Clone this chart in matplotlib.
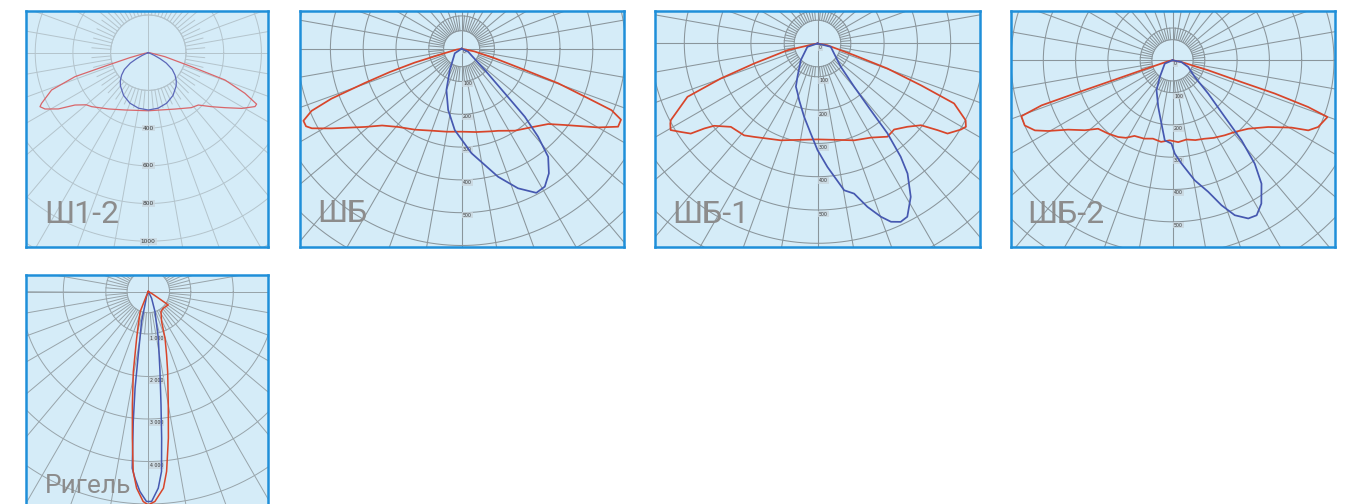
import numpy as np
import matplotlib.pyplot as plt

W, H = 1354, 504

# --- Data: luminous intensity (cd/klm) vs angle from nadir (deg) ---
# Ш1-2
sh12_red_angle = [-90, -80, -75, -72.9, -71.9, -68.9, -64.6, -63.5, -61.4, -58, -54.5, -50, -46.4, -35.4,
                  -22.1, 0, 25.4, 38, 43.7, 49.5, 54.4, 59.2, 63.2, 64.6, 67.2, 70.4, 72.1, 76.5, 85, 90]
sh12_red_cd = [0, 20, 100, 222, 409, 550, 627, 642, 624, 563, 478, 430, 415, 366,
               328, 308, 331, 370, 384, 441, 501, 577, 634, 636, 556, 432, 242, 91, 10, 0]
sh12_blue_angle = [-75, -70, -66, -63, -60, -55, -50, -45, -40, -30, -20, -10, 0,
                   10, 20, 30, 40, 45, 50, 55, 60, 63, 66, 70, 75]
sh12_blue_cd = [0, 10, 35, 70, 110, 155, 185, 210, 230, 262, 285, 299, 304,
                299, 285, 262, 230, 210, 185, 155, 110, 70, 35, 10, 0]

# ШБ
shb_red_angle = [-90, -80, -75, -73.5, -72, -70.5, -69, -67.5, -65.5, -63.5, -62, -58.5, -51, -46, -39,
                 -30, -20, -10, 0, 10, 20, 24, 33, 41.5, 49, 53.5, 60, 63.5, 66, 67.7, 68.6, 70.3,
                 71.4, 73.9, 78, 90]
shb_red_cd = [0, 15, 60, 150, 230, 313, 425, 495, 530, 530, 517, 465, 379, 337, 307,
              285, 266, 257, 253, 258, 268, 274, 298, 320, 350, 391, 480, 533, 532, 494, 414, 313,
              203, 105, 40, 0]
shb_blue_angle = [-70, -56, -29, -20.2, -12.4, -4.8, 5.4, 15.9, 22, 27.4, 31.1, 35, 38.7, 41, 42.9,
                  44.1, 47.4, 65, 80]
shb_blue_cd = [0, 25, 74, 134, 191, 249, 320, 406, 459, 495, 491, 464, 422, 355, 283,
               189, 96, 22, 0]

# ШБ-1
shb1_red_angle = [-90, -80, -77.4, -72.5, -70.1, -67.7, -62.4, -61.5, -59.5, -57.1, -54.6, -53.1, -51.5,
                  -46.1, -38.6, -34.2, -20.8, 0, 20.8, 29.6, 36.9, 41.7, 47.2, 51.7, 54.2, 55.3, 59,
                  60.7, 62.6, 66.3, 68, 70.3, 72.3, 80, 90]
shb1_red_cd = [0, 10, 92, 199, 309, 422, 497, 503, 512, 489, 467, 425, 397,
               361, 353, 339, 311, 288, 311, 325, 350, 346, 368, 396, 445, 475, 502,
               511, 501, 448, 335, 223, 116, 30, 0]
shb1_blue_angle = [-80, -71.6, -45, -31, -26.6, -22, -17.9, -10.3, -4.3, 0, 4.6, 10.3, 13.7, 17, 20.1,
                   22.4, 25, 27.4, 31.3, 34.7, 36.3, 37.9, 38.6, 40.3, 45, 59, 76, 90]
shb1_blue_cd = [0, 32, 71, 117, 145, 160, 179, 224, 271, 320, 372, 448, 464, 513, 554,
                579, 591, 586, 539, 475, 422, 342, 256, 170, 99, 58, 41, 0]

# ШБ-2
shb2_red_angle = [-90, -80, -72.1, -71.4, -71.2, -71, -69.7, -66.2, -63, -60.4, -56.4, -51.4, -47.4,
                  -41.3, -35.3, -31, -26.7, -20, -14, -8, -2, 4, 10, 16, 22, 28,
                  34.9, 41, 47.9, 55.1, 60.5, 62.7, 65.4, 69.9, 71, 72, 72.5, 74.4, 79, 90]
shb2_red_cd = [0, 10, 101, 210, 320, 429, 499, 500, 478, 443, 388, 347, 313,
               302, 291, 280, 262, 258, 250, 255, 248, 254, 249, 257, 262, 272,
               283, 294, 316, 361, 423, 473, 496, 511, 444, 333, 224, 115, 28, 0]
shb2_blue_angle = [-80, -66.8, -37.2, -28.1, -17, -9.9, -5.5, -0.7, 1.4, 5, 10.5, 15.2, 18.7, 21.9,
                   25.6, 28.5, 31.8, 35.8, 38.5, 40.8, 42.7, 47, 53.2, 66.9, 79, 90]
shb2_blue_cd = [0, 26, 65, 105, 151, 199, 249, 258, 289, 321, 378, 422, 474, 517,
                543, 546, 522, 471, 409, 327, 239, 151, 86, 53, 28, 0]

# Ригель
rigel_red_angle = [-30, -23, -22, -16.7, -14, -10.6, -8, -6.2, -4.8, -3.4, -1.4, 0, 1.8, 4.4, 5.8, 7.8,
                   10, 13.6, 16.1, 19.7, 23.9, 32.4, 41.9, 56, 57, 60, 70]
rigel_red_cd = [0, 150, 510, 819, 1133, 1915, 2693, 3472, 4250, 4636, 4943, 5020, 4944, 4642, 4257, 3483,
                2707, 1937, 1551, 1167, 772, 557, 528, 565, 300, 100, 0]
rigel_blue_angle = [-40, -20, -14, -12.6, -9, -7.8, -6.6, -5.2, -4.1, -2.4, -0.5, 0.9, 2.9, 4.2, 5.2,
                    6.4, 8.3, 12.1, 18.4, 26, 40]
rigel_blue_cd = [0, 120, 323, 723, 1508, 2296, 3079, 4174, 4404, 4710, 4941, 4942, 4633, 4247, 3466,
                 2683, 1902, 1123, 496, 176, 0]

names = ["Ш1-2", "ШБ", "ШБ-1", "ШБ-2", "Ригель"]

# --- Style ---
bg_color = "#d5ecf8"
border_color = "#1f8fd9"
name_color = "#8c8c8c"
plt.rcParams["font.family"] = ["Roboto", "DejaVu Sans"]


def polar_xy(angle, cd):
    a = np.radians(np.asarray(angle, float))
    cd = np.asarray(cd, float)
    return cd * np.sin(a), -cd * np.cos(a)


fig = plt.figure(figsize=(W / 100, H / 100), dpi=100)
fig.patch.set_facecolor("white")


def draw_panel(box, origin, s, step, disc, ring, label_vals, label_txt, label_off, label_ha,
               grid_color, grid_lw, name, name_pos, name_size, curves, curve_lw, label_size):
    x0, y0, x1, y1 = box
    ax = fig.add_axes([x0 / W, 1 - y1 / H, (x1 - x0) / W, (y1 - y0) / H])
    ox, oy = origin
    ax.set_xlim((x0 - ox) / s, (x1 - ox) / s)
    ax.set_ylim((oy - y1) / s, (oy - y0) / s)
    ax.set_facecolor(bg_color)
    ax.set_xticks([])
    ax.set_yticks([])
    for sp in ax.spines.values():
        sp.set_color(border_color)
        sp.set_linewidth(1.8)

    corners = [(x0, y0), (x1, y0), (x0, y1), (x1, y1)]
    rmax = max(np.hypot(cx - ox, cy - oy) for cx, cy in corners) / s
    t = np.linspace(0, 2 * np.pi, 400)
    kw = dict(color=grid_color, lw=grid_lw, zorder=1)
    # concentric circles
    r = step
    while r < rmax + step:
        ax.plot(r * np.cos(t), r * np.sin(t), **kw)
        r += step
    ax.plot(disc * np.cos(t), disc * np.sin(t), **kw)
    # radial lines
    for a in range(0, 360, 5):
        ar = np.radians(a)
        r1 = rmax if a % 10 == 0 else ring
        ax.plot([disc * np.sin(ar), r1 * np.sin(ar)], [-disc * np.cos(ar), -r1 * np.cos(ar)], **kw)
    ax.axhline(0, **kw)
    ax.axvline(0, **kw)

    # intensity labels on the vertical axis
    for v, txt in zip(label_vals, label_txt):
        xl = label_off[0] / s
        yl = -v - label_off[1] / s
        ax.text(xl, yl, txt, fontsize=label_size, color="#3a3a3a", ha=label_ha, va="center",
                family="DejaVu Sans", zorder=2,
                bbox=dict(boxstyle="square,pad=0.15", fc="#c9d6de", ec="none", alpha=0.8))

    for (ang, cd, col) in curves:
        xs, ys = polar_xy(ang, cd)
        ax.plot(xs, ys, color=col, lw=curve_lw, zorder=3, solid_joinstyle="round")

    nx, ny = name_pos
    ax.text((nx - x0) / (x1 - x0), (y1 - ny) / (y1 - y0), name, transform=ax.transAxes,
            fontsize=name_size, color=name_color, ha="left", va="baseline", zorder=4)
    return ax


red = "#d8452a"
blue = "#4658b0"

draw_panel((26.2, 11.2, 267.8, 246.8), (148.3, 52.7), 37.7 / 200, 200, 200, 300,
           [400, 600, 800, 1000], ["400", "600", "800", "1000"], (0, 0), "center",
           "#b4c4cc", 0.7, names[0], (44.5, 223.3), 23,
           [(sh12_red_angle, sh12_red_cd, "#d9666a"), (sh12_blue_angle, sh12_blue_cd, "#5b66b8")],
           0.9, 4.2)

draw_panel((300.2, 11.2, 623.8, 246.8), (461.6, 48.7), 0.328, 100, 55, 100,
           [0, 100, 200, 300, 400, 500], ["0", "100", "200", "300", "400", "500"], (1.5, 2.5), "left",
           "#8a959b", 0.75, names[1], (317.5, 221.7), 23,
           [(shb_red_angle, shb_red_cd, red), (shb_blue_angle, shb_blue_cd, blue)],
           1.25, 3.4)

draw_panel((655.2, 11.2, 979.8, 246.8), (817.5, 43.5), 0.333, 100, 70, 100,
           [0, 100, 200, 300, 400, 500], ["0", "100", "200", "300", "400", "500"], (1.5, 4), "left",
           "#8a959b", 0.75, names[2], (672.5, 223.3), 23,
           [(shb1_red_angle, shb1_red_cd, red), (shb1_blue_angle, shb1_blue_cd, blue)],
           1.25, 3.4)

draw_panel((1011.2, 11.2, 1334.8, 246.8), (1172.5, 60.3), 0.323, 100, 64, 100,
           [0, 100, 200, 300, 400, 500], ["0", "100", "200", "300", "400", "500"], (1.5, 3.4), "left",
           "#8a959b", 0.75, names[3], (1027.5, 223.3), 23,
           [(shb2_red_angle, shb2_red_cd, red), (shb2_blue_angle, shb2_blue_cd, blue)],
           1.25, 3.4)

draw_panel((26.2, 274.7, 267.8, 506), (148.3, 291.5), 0.0425, 1000, 500, 1000,
           [1000, 2000, 3000, 4000], ["1 000", "2 000", "3 000", "4 000"], (1.5, 4), "left",
           "#98a4aa", 0.7, names[4], (44.5, 492.7), 19,
           [(rigel_blue_angle, rigel_blue_cd, blue), (rigel_red_angle, rigel_red_cd, red)],
           1.1, 3.4)

fig.savefig("out.png", dpi=100, facecolor="white")
